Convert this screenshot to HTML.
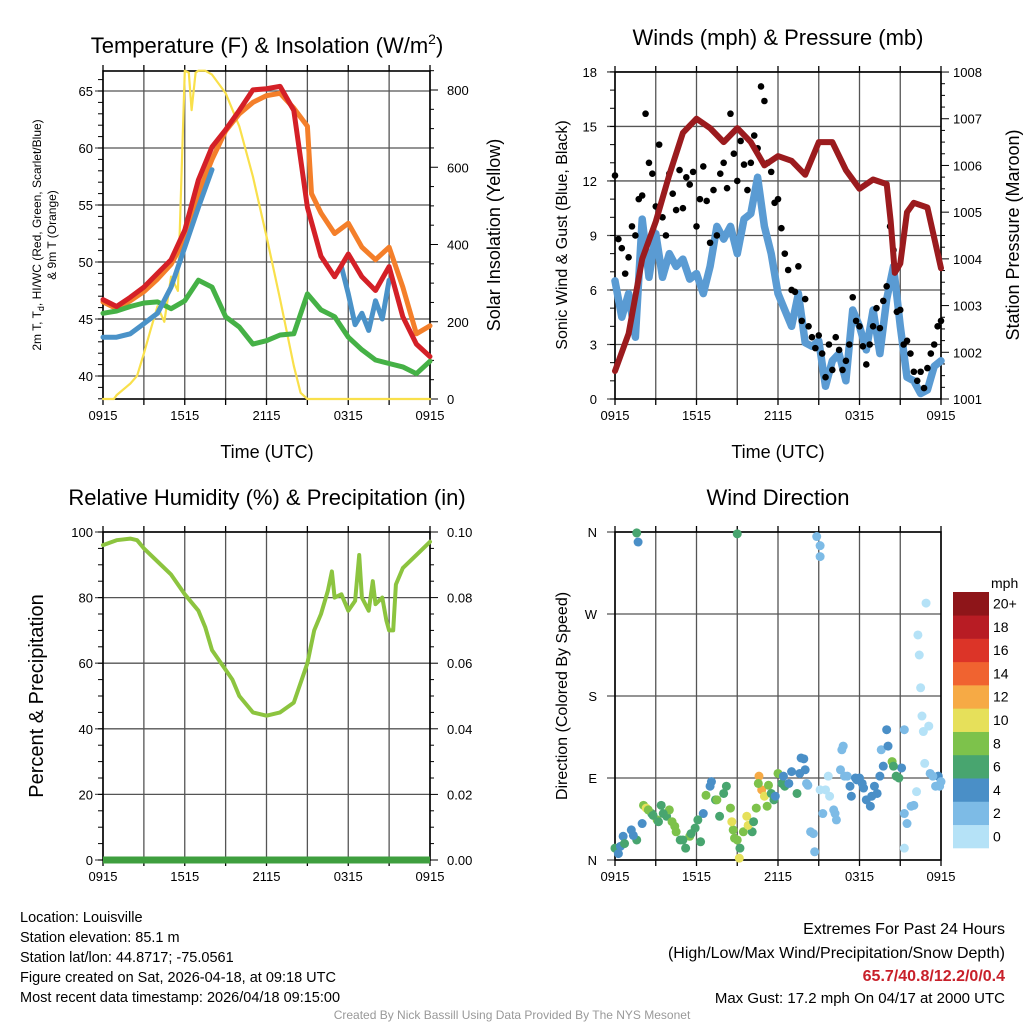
<!DOCTYPE html>
<html><head><meta charset="utf-8"><style>
body{margin:0;background:#fff;}
svg{display:block;font-family:"Liberation Sans",sans-serif;}
</style></head><body>
<svg id="s" width="1024" height="1024" viewBox="0 0 1024 1024" xmlns="http://www.w3.org/2000/svg">
<rect width="1024" height="1024" fill="#fff"/>
<g id="plots"></g>
<text x="267" y="53" font-size="22" text-anchor="middle">Temperature (F) &amp; Insolation (W/m<tspan dy="-9" font-size="14">2</tspan><tspan dy="9">)</tspan></text>
<text x="778" y="45" font-size="22" text-anchor="middle">Winds (mph) &amp; Pressure (mb)</text>
<text x="267" y="505" font-size="22" text-anchor="middle">Relative Humidity (%) &amp; Precipitation (in)</text>
<text x="778" y="505" font-size="22" text-anchor="middle">Wind Direction</text>
<text x="267" y="458" font-size="18" text-anchor="middle">Time (UTC)</text>
<text x="778" y="458" font-size="18" text-anchor="middle">Time (UTC)</text>
<text font-size="12" text-anchor="middle" transform="translate(41,235) rotate(-90)">2m T, T<tspan dy="3" font-size="9">d</tspan><tspan dy="-3">, HI/WC (Red, Green, Scarlet/Blue)</tspan></text>
<text font-size="12" text-anchor="middle" transform="translate(56,235) rotate(-90)">&amp; 9m T (Orange)</text>
<text font-size="18" text-anchor="middle" transform="translate(500,235) rotate(-90)">Solar Insolation (Yellow)</text>
<text font-size="16" text-anchor="middle" transform="translate(567,235) rotate(-90)">Sonic Wind &amp; Gust (Blue, Black)</text>
<text font-size="18" text-anchor="middle" transform="translate(1019,235) rotate(-90)">Station Pressure (Maroon)</text>
<text font-size="20" text-anchor="middle" transform="translate(43,696) rotate(-90)">Percent &amp; Precipitation</text>
<text font-size="16" text-anchor="middle" transform="translate(567,696) rotate(-90)">Direction (Colored By Speed)</text>
<g font-size="14.5">
<text x="20" y="922">Location: Louisville</text>
<text x="20" y="942">Station elevation: 85.1 m</text>
<text x="20" y="962">Station lat/lon: 44.8717; -75.0561</text>
<text x="20" y="982">Figure created on Sat, 2026-04-18, at 09:18 UTC</text>
<text x="20" y="1002">Most recent data timestamp: 2026/04/18 09:15:00</text>
</g>
<g font-size="16" text-anchor="end">
<text x="1005" y="934">Extremes For Past 24 Hours</text>
<text x="1005" y="958">(High/Low/Max Wind/Precipitation/Snow Depth)</text>
<text x="1005" y="981" fill="#c8202a" font-weight="bold">65.7/40.8/12.2/0/0.4</text>
<text x="1005" y="1003" font-size="15">Max Gust: 17.2 mph On 04/17 at 2000 UTC</text>
</g>
<text x="512" y="1019" font-size="12" fill="#999" text-anchor="middle">Created By Nick Bassill Using Data Provided By The NYS Mesonet</text>
</svg>
<script>
// ---- data ----
const tempHours=[0,1,2,3,4,5,6,7,8,9,10,11,12,13,14,15,16,17,18,19,20,21,22,23,24];
const tempRed=[46.7,46.1,46.9,47.8,49.0,50.2,52.8,57.2,60.1,61.6,63.3,65.1,65.2,65.4,63.3,54.8,50.5,48.7,50.7,48.7,47.5,49.6,45.2,42.8,41.7];
const orangeHours=[0,1,2,3,4,5,6,7,8,9,10,11,12,13,14,15,15.3,16,17,18,19,20,21,22,23,24];
const tempOrange=[46.5,45.9,46.6,47.4,48.5,49.8,52,56,59,61.5,63.0,64.0,64.6,64.8,63.5,61.9,56,54.3,52.5,53.4,51.3,50.2,51.3,47.8,43.7,44.4];
const dewGreen=[45.5,45.7,46.1,46.4,46.5,45.9,46.6,48.4,47.8,45.2,44.3,42.8,43.1,43.6,43.7,47.2,45.8,45.2,43.4,42.3,41.4,41.1,40.8,40.2,41.3];
const blueHoursA=[0,1,2,3,4,5,6,7,8];
const blueA=[43.4,43.4,43.7,44.6,45.5,47.8,51.3,54.8,58.1];
const blueHoursB=[17.5,18,18.5,19,19.5,20,20.5,21];
const blueB=[49.6,47.2,44.5,45.5,44.0,46.6,45,48.4];
const solarHours=[0,0.8,1,2,2.5,3,3.5,4,4.5,5,5.5,5.8,6,6.3,6.5,6.8,7,7.5,8,9,10,11,12,13,14,14.5,15,24];
const solarVals=[0,0,10,40,60,118,180,240,200,317,280,620,850,845,748,845,850,850,840,792,706,576,421,258,86,16,0,0];
const pressHours=[0,1,2,3,4,5,6,7,8,9,10,11,12,13,14,15,16,17,18,19,20,20.3,20.6,21,21.5,22,23,24];
const pressVals=[1001.6,1002.4,1004.0,1004.8,1005.8,1006.7,1007.0,1006.8,1006.5,1006.8,1006.5,1006.0,1006.2,1006.1,1005.8,1006.5,1006.5,1005.9,1005.5,1005.7,1005.6,1004.8,1003.7,1003.9,1005.0,1005.2,1005.1,1003.8];
const windVals=[6.5,4.5,5.8,3.4,9.9,6.7,9.1,6.7,8.0,7.3,7.7,6.6,6.9,5.8,7.3,9.5,8.8,9.5,8.0,9.9,10.2,12.2,9.5,8.0,5.8,4.9,4.0,5.8,3.1,2.9,3.2,0.7,2.1,2.5,1.0,4.9,4.0,2.7,4.9,2.5,5.5,7.3,4.0,1.2,1.0,0.3,0.5,1.8,2.1];
const gustVals=[12.3,8.8,8.3,6.9,7.8,9.5,9.0,11.0,11.2,15.7,13.0,12.4,10.6,14.0,10.0,9.0,12.4,11.3,10.4,12.6,10.5,12.2,11.8,12.5,9.5,11.0,12.8,10.9,8.6,11.5,9.0,12.4,13.0,11.6,15.7,13.5,12.0,14.2,12.9,11.5,13.0,14.5,13.8,17.2,16.4,13.0,12.5,10.8,11.0,9.4,8.0,7.1,6.0,5.9,7.3,4.3,5.5,4.0,3.4,2.8,3.5,2.5,1.2,3.0,1.6,3.4,2.7,1.6,2.1,3.0,5.6,4.3,4.0,2.9,1.9,3.0,4.0,5.0,3.9,5.4,6.2,9.5,8.2,4.8,4.9,3.0,3.2,2.5,1.5,1.0,1.5,0.6,1.7,2.5,3.0,4.0,4.3];
const rhHours=[0,1,2,2.5,3,4,5,6,7,7.5,8,9,9.5,10,11,12,13,14,15,15.5,16,16.5,16.8,17,17.5,18,18.5,18.8,19,19.5,19.8,20,20.5,20.8,21,21.3,21.5,22,23,24];
const rhVals=[96,97.5,98,97.5,95,91,87,81,76,71,64,58,55,50,45,44,45,48,60,70,75,82,88,80,81,76,79,93,80,76,85,78,80,73,70,70,84,89,93,97];
const precipVals=[0,0];
const dirHours=[0,0.25,0.6,1.2,1.6,2.0,2.1,2.3,2.7,3.1,3.4,3.8,4.0,4.5,4.8,5.2,5.5,5.9,6.3,6.5,6.7,7.1,7.4,7.7,8.2,8.5,8.7,9.0,9.2,9.15,9.7,10.1,10.4,10.6,10.8,11.0,11.3,11.7,12.0,12.3,12.5,13.0,13.4,13.7,14.0,14.2,14.6,14.7,15.1,15.3,15.7,16.1,16.3,16.6,16.8,17.1,17.4,17.7,18.2,18.5,18.8,19.1,19.5,19.6,20.0,20.1,20.4,20.7,21.1,21.3,21.3,21.3,21.8,22.2,22.3,22.4,22.5,22.6,22.7,22.8,22.9,23.1,23.2,23.6,23.8,24.0,1.6,1.7,9.0,14.85,15.1,15.1,0.4,0.7,1.35,2.45,2.8,3.2,3.55,4.2,4.4,5.0,5.6,6.1,7.0,7.5,8.0,8.6,8.8,9.45,9.8,10.2,10.55,11.2,11.5,11.8,12.4,12.8,13.6,13.9,14.1,14.4,15.5,15.8,16.2,16.7,16.9,17.3,17.8,18.0,18.3,18.9,19.3,19.75,20.5,20.9,21.5,22.0,23.4,23.9];
const dirDegs=[13,7,26,33,22,40,60,57,51,44,60,48,55,31,22,13,26,35,20,51,71,86,66,48,81,57,33,22,13,2,48,31,57,92,77,70,82,66,95,84,81,97,73,112,99,82,29,9,77,51,92,55,44,99,125,92,70,90,84,66,59,81,92,121,143,125,108,92,101,143,51,13,59,75,247,225,189,158,141,106,282,147,95,81,92,86,359,349,358,355,345,333,15,18,27,55,49,42,51,42,37,22,29,44,81,66,73,42,24,31,38,42,84,59,73,70,92,84,95,111,84,31,77,70,51,121,92,81,88,90,79,70,73,103,103,90,40,60,92,81];
const dirSpeeds=[7,5,5,5,7,5,9,11,7,9,7,7,9,9,7,7,9,7,7,5,9,5,7,7,7,9,9,9,7,11,11,7,9,13,13,11,9,7,9,7,7,5,7,5,5,3,3,3,1,3,1,3,3,3,3,3,5,5,5,5,5,5,5,3,5,5,9,7,5,3,3,1,3,1,1,1,1,1,1,1,1,1,3,3,5,3,7,5,7,3,3,3,5,7,5,9,7,7,7,9,9,7,7,7,5,9,7,11,9,9,11,7,9,9,7,5,5,5,5,5,3,3,1,1,3,3,3,5,5,5,5,5,5,5,7,7,3,3,3,3];
const speedBins=["0","2","4","6","8","10","12","14","16","18","20+"];
const binColors=["#b5e2f7","#7dbbe6","#4a8fc7","#48a56f","#7dc24b","#e6e05a","#f6aa45","#f06330","#dc3428","#b81c24","#8e1519"];
const timeLabels=["0915","1515","2115","0315","0915"];
const tempTicks=[40,45,50,55,60,65];
const solarTicks=[0,200,400,600,800];
const windTicks=[0,3,6,9,12,15,18];
const pressTicks=[1001,1002,1003,1004,1005,1006,1007,1008];
const rhTicks=[0,20,40,60,80,100];
const precipTicks=["0.00","0.02","0.04","0.06","0.08","0.10"];
const dirTicks=["N","E","S","W","N"];

// ---- scales ----
const NS="http://www.w3.org/2000/svg";
const G=document.getElementById('plots');
function mk(tag,attrs,parent){const e=document.createElementNS(NS,tag);for(const k in attrs)e.setAttribute(k,attrs[k]);(parent||G).appendChild(e);return e;}
const xL=t=>103+t*327/24, xR=t=>615+t*326/24;
const yT=v=>376-(v-40)*11.4, yI=v=>399-v*309/800;
const yW=v=>399-v*18.17, yP=p=>399-(p-1001)*46.71;
const yRH=v=>860-v*3.28, yD=d=>860-d*328/360;

function frame(x0,x1,y0,y1,name,hgrid){
  const g=mk('g',{});
  
  
  for(let i=0;i<=8;i++){const x=x0+(x1-x0)*i/8;
    mk('line',{x1:x,x2:x,y1:y0,y2:y1,stroke:'#555','stroke-width':1.3},g);
    mk('line',{x1:x,x2:x,y1:y1,y2:y1+6,stroke:'#000','stroke-width':1.3},g);
    mk('line',{x1:x,x2:x,y1:y0-6,y2:y0,stroke:'#000','stroke-width':1.3},g);}
  hgrid.forEach(y=>{mk('line',{x1:x0-8,x2:x1,y1:y,y2:y,stroke:'#555','stroke-width':1.3},g);});
  timeLabels.forEach((l,i)=>{const t=mk('text',{x:x0+(x1-x0)*i/4,y:y1+21,'font-size':13,'text-anchor':'middle'},g);t.textContent=l;});
  mk('rect',{x:x0,y:y0,width:x1-x0,height:y1-y0,fill:'none',stroke:'#000','stroke-width':1.6},g);
  return g;
}
function path(hours,vals,xf,yf,attrs,name){
  let d='';hours.forEach((h,i)=>{d+=(i?'L':'M')+xf(h).toFixed(1)+','+yf(vals[i]).toFixed(1);});
  const p=mk('path',Object.assign({d:d,fill:'none','stroke-linejoin':'round','stroke-linecap':'round'},attrs));
  
  
  return p;
}
function lab(x,y,txt,anchor,name){const t=mk('text',{x:x,y:y,'font-size':13,'text-anchor':anchor});t.textContent=txt;
  
  }

// ---- temperature panel ----
frame(103,430,71,399,'temp',tempTicks.map(yT));
for(let v=38;v<=66;v++){mk('line',{x1:98,x2:103,y1:yT(v),y2:yT(v),stroke:'#000'});}
for(let v=0;v<=850;v+=50){mk('line',{x1:430,x2:v%200?434:438,y1:yI(v),y2:yI(v),stroke:'#000'});}
tempTicks.forEach(v=>lab(93,yT(v)+5,String(v),'end','temp-tick-label'));
solarTicks.forEach(v=>lab(447,yI(v)+5,String(v),'start','solar-tick-label'));
path(solarHours,solarVals,xL,yI,{stroke:'#f9e04b','stroke-width':2.2},'solar-line');
path(orangeHours,tempOrange,xL,yT,{stroke:'#f47f2a','stroke-width':5},'temp-9m-line');
path(tempHours,dewGreen,xL,yT,{stroke:'#45b146','stroke-width':5},'dewpoint-line');
path(blueHoursA,blueA,xL,yT,{stroke:'#4a92c8','stroke-width':5},'windchill-line-a');
path(blueHoursB,blueB,xL,yT,{stroke:'#4a92c8','stroke-width':5},'windchill-line-b');
path(tempHours,tempRed,xL,yT,{stroke:'#d42027','stroke-width':5},'temp-2m-line');

// ---- wind panel ----
frame(615,941,72,399,'wind',windTicks.map(yW));
for(let v=0;v<=18;v++){mk('line',{x1:610,x2:615,y1:yW(v),y2:yW(v),stroke:'#000'});}
for(let p=1001;p<=1008.01;p+=0.25){mk('line',{x1:941,x2:(Math.abs(p-Math.round(p))<0.01)?949:945,y1:yP(p),y2:yP(p),stroke:'#000'});}
windTicks.forEach(v=>lab(597,yW(v)+5,String(v),'end','wind-tick-label'));
pressTicks.forEach(v=>lab(953,yP(v)+5,String(v),'start','pressure-tick-label'));
path(windVals.map((v,i)=>i*0.5),windVals,xR,yW,{stroke:'#5a9bd3','stroke-width':7.5},'sustained-wind-line');
gustVals.forEach((v,i)=>{const c=mk('circle',{cx:xR(i*0.25),cy:yW(v),r:3.3,fill:'#000'});
  
  });
path(pressHours,pressVals,xR,yP,{stroke:'#9b1b1e','stroke-width':6},'pressure-line');

// ---- rh panel ----
frame(103,430,532,860,'rh',rhTicks.map(yRH));
for(let v=0;v<=100;v+=5){mk('line',{x1:98,x2:103,y1:yRH(v),y2:yRH(v),stroke:'#000'});mk('line',{x1:430,x2:v%20?434:438,y1:yRH(v),y2:yRH(v),stroke:'#000'});}
rhTicks.forEach(v=>lab(93,yRH(v)+5,String(v),'end','rh-tick-label'));
precipTicks.forEach((v,i)=>lab(447,yRH(rhTicks[i])+5,v,'start','precip-tick-label'));
path(rhHours,rhVals,xL,yRH,{stroke:'#8cc43f','stroke-width':4},'rh-line');
path([0,24],precipVals,xL,yRH,{stroke:'#3f9f3f','stroke-width':7,'stroke-linecap':'butt'},'precip-line');

// ---- direction panel ----
frame(615,941,532,860,'direction',[0,90,180,270,360].map(yD));
dirTicks.forEach((l,i)=>lab(597,yD(i*90)+5,l,'end','direction-tick-label'));
dirHours.forEach((h,i)=>{const bi=Math.min(10,Math.floor(dirSpeeds[i]/2));
  const c=mk('circle',{cx:xR(h),cy:yD(dirDegs[i]),r:4.5,fill:binColors[bi]});
  
  });

// ---- colorbar ----
const cb=mk('g',{});


const cbh=256/11;
binColors.forEach((c,i)=>{mk('rect',{x:953,y:592+(10-i)*cbh,width:36,height:cbh+0.3,fill:c},cb);});
const mt=mk('text',{x:991,y:588,'font-size':14},cb);mt.textContent='mph';
speedBins.forEach((l,i)=>{const y=592+(10-i)*cbh+cbh/2+5;const t=mk('text',{x:993,y:y,'font-size':14},cb);t.textContent=l;});
</script>
</body></html>
